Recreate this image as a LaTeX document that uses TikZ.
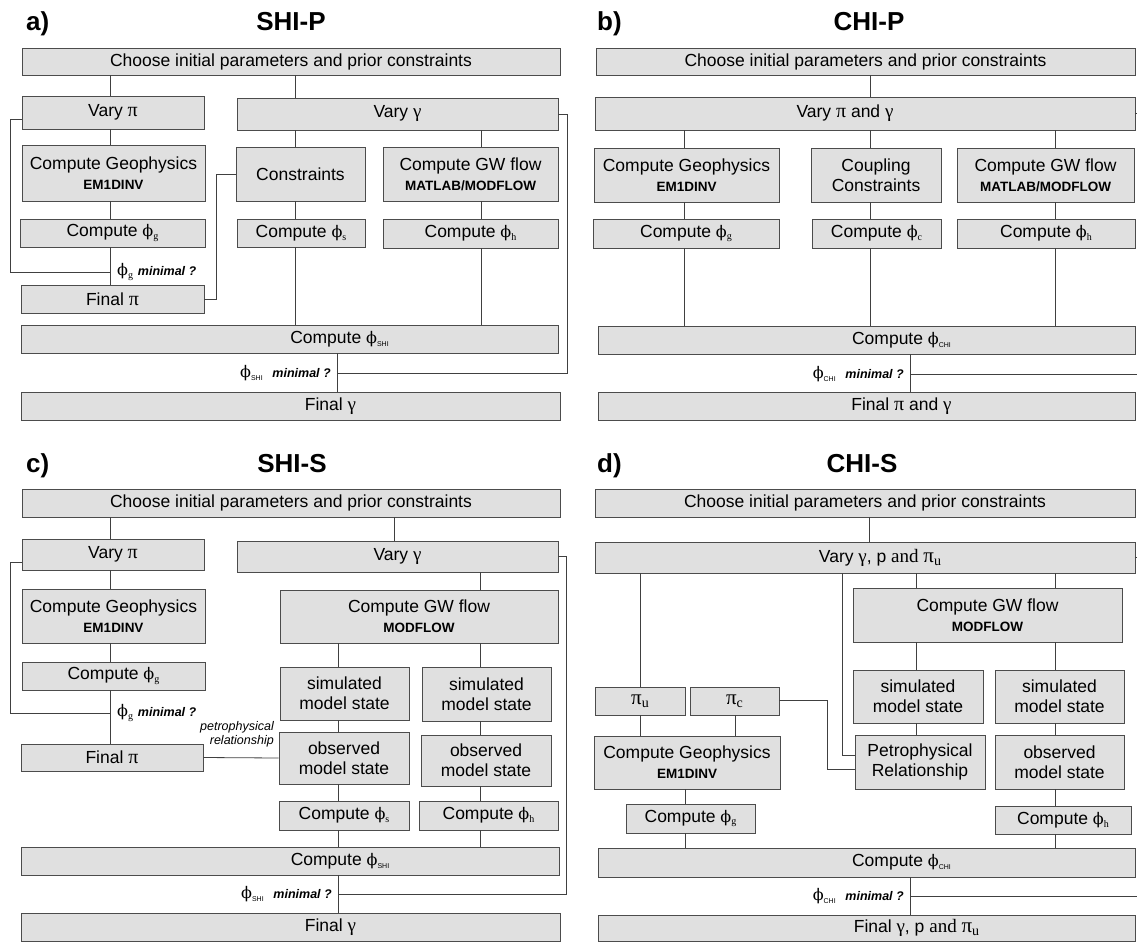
\documentclass[tikz,border=0pt]{standalone}
\usepackage{fontspec}
\setmainfont{Liberation Sans}
\newfontfamily\serifgr{Liberation Serif}
\newfontfamily\phifont{DejaVu Serif}
\usetikzlibrary{calc}

\newcommand{\mainsz}{\fontsize{17.5}{20}\selectfont}
\newcommand{\gpi}{{\serifgr\fontsize{20}{20}\selectfont π}}
\newcommand{\ggam}{{\serifgr\fontsize{19}{20}\selectfont γ}}
\newcommand{\piu}[1]{{\serifgr\fontsize{21}{20}\selectfont π\raisebox{-0.35ex}{\fontsize{14}{14}\selectfont #1}}}
\newcommand{\phs}[1]{{\phifont\fontsize{16}{20}\selectfont ϕ}\raisebox{-0.3ex}{\serifgr\fontsize{10}{10}\selectfont #1}}
\newcommand{\phcap}[1]{{\phifont\fontsize{16}{20}\selectfont ϕ}\raisebox{-0.3ex}{\fontsize{7}{7}\selectfont #1}}
\newcommand{\prog}[1]{{\bfseries\fontsize{13.5}{16}\selectfont #1}}
\newcommand{\minq}{{\bfseries\itshape\fontsize{12.5}{14}\selectfont minimal ?}}
\newcommand{\bx}[6]{\node[box,minimum width={(#4-#2)*1pt},minimum height={(#5-#3)*1pt}] (#1) at ({(#2+#4)/2},{(#3+#5)/2}) {#6};}

\tikzset{
  box/.style={draw=black!70, fill=black!12, line width=0.9pt, inner sep=0pt, align=center, font=\mainsz},
  conn/.style={draw=black!75, line width=0.8pt},
  lbl/.style={inner sep=0pt, font=\mainsz},
  ttl/.style={inner sep=0pt, font=\bfseries\fontsize{26}{28}\selectfont},
  petro/.style={inner sep=0pt, align=right, font=\itshape\fontsize{12.5}{13.5}\selectfont}
}

\begin{document}
\begin{tikzpicture}[x=1pt,y=-1pt]
\fill[white] (0,0) rectangle (1137,942);
\useasboundingbox (0,0) rectangle (1137,942);

% ---------------- titles
\node[ttl, anchor=base west] (aLbl) at (26,31) {a)};
\node[ttl, anchor=base] (aTtl) at (291,31) {SHI-P};
\node[ttl, anchor=base west] (bLbl) at (597,31) {b)};
\node[ttl, anchor=base] (bTtl) at (869,31) {CHI-P};
\node[ttl, anchor=base west] (cLbl) at (26,472) {c)};
\node[ttl, anchor=base] (cTtl) at (292,472) {SHI-S};
\node[ttl, anchor=base west] (dLbl) at (597,472) {d)};
\node[ttl, anchor=base] (dTtl) at (862,472) {CHI-S};

% ================= panel a
\bx{aT}{22}{48}{560}{75}{Choose initial parameters and prior constraints}
\bx{aVp}{22}{96}{204}{129}{Vary \gpi}
\bx{aVg}{237}{98}{558}{130}{Vary \ggam}
\bx{aGeo}{22}{145}{205}{201}{Compute Geophysics\\\prog{EM1DINV}}
\bx{aCon}{236}{147}{365}{201}{Constraints}
\bx{aGw}{383}{147}{558}{201}{Compute GW flow\\\prog{MATLAB/MODFLOW}}
\bx{aPg}{20}{219}{205}{247}{Compute \phs{g}}
\bx{aPs}{237}{219}{365}{247}{Compute \phs{s}}
\bx{aPh}{383}{219}{558}{248}{Compute \phs{h}}
\bx{aFp}{21}{285}{204}{313}{Final \gpi}
\bx{aShi}{21}{325}{558}{353}{\hspace*{100pt}Compute \phcap{SHI}}
\bx{aFg}{21}{392}{560}{420}{\hspace*{80pt}Final \ggam}

\coordinate (ax1) at (110,0);
\coordinate (ax2) at (295,0);
\coordinate (ax3) at (481,0);
\coordinate (ax4) at (337,0);
\coordinate (aRx) at (567,0);
\coordinate (aLa) at (10,119);
\coordinate (aM1) at (110,272);
\coordinate (aLb) at (216,299);
\coordinate (aM2) at (337,373);

\draw[conn] (aT.south -| ax1) -- (aVp.north -| ax1);
\draw[conn] (aVp.south -| ax1) -- (aGeo.north -| ax1);
\draw[conn] (aGeo.south -| ax1) -- (aPg.north -| ax1);
\draw[conn] (aPg.south -| ax1) -- (aFp.north -| ax1);
\draw[conn] (aT.south -| ax2) -- (aVg.north -| ax2);
\draw[conn] (aVg.south -| ax2) -- (aCon.north -| ax2);
\draw[conn] (aCon.south -| ax2) -- (aPs.north -| ax2);
\draw[conn] (aPs.south -| ax2) -- (aShi.north -| ax2);
\draw[conn] (aVg.south -| ax3) -- (aGw.north -| ax3);
\draw[conn] (aGw.south -| ax3) -- (aPh.north -| ax3);
\draw[conn] (aPh.south -| ax3) -- (aShi.north -| ax3);
\draw[conn] (aShi.south -| ax4) -- (aFg.north -| ax4);
\draw[conn] (aVp.west |- aLa) -- (aLa) -- (aLa |- aM1) -- (aM1);
\draw[conn] (aFp.east |- aLb) -- (aLb) -- (aLb |- aCon.west) -- (aCon.west);
\draw[conn] (aM2) -- (aM2 -| aRx) -- (aRx |- aVg.east) -- (aVg.east);
\node[lbl, anchor=west] (aQ1) at ([xshift=7pt]aM1) {\phs{g}\ \minq};
\node[lbl, anchor=east] (aQ2) at ([xshift=-6pt]aM2) {\phcap{SHI}\ \ \minq};

% ================= panel b
\bx{bT}{596}{48}{1135}{75}{Choose initial parameters and prior constraints}
\bx{bV}{595}{97}{1135}{130}{Vary \gpi{} and \ggam\hspace*{40pt}}
\bx{bGeo}{594}{148}{779}{202}{Compute Geophysics\\\prog{EM1DINV}}
\bx{bCc}{811}{148}{941}{202}{Coupling\\Constraints}
\bx{bGw}{957}{148}{1134}{202}{Compute GW flow\\\prog{MATLAB/MODFLOW}}
\bx{bPg}{593}{219}{779}{248}{Compute \phs{g}}
\bx{bPc}{812}{219}{941}{248}{Compute \phs{c}}
\bx{bPh}{957}{219}{1135}{248}{Compute \phs{h}}
\bx{bChi}{598}{326}{1135}{354}{\hspace*{70pt}Compute \phcap{CHI}}
\bx{bF}{598}{392}{1135}{420}{\hspace*{70pt}Final \gpi{} and \ggam}

\coordinate (bx1) at (684,0);
\coordinate (bx2) at (870,0);
\coordinate (bx3) at (1055,0);
\coordinate (bx4) at (910,0);
\coordinate (bEdge) at (1137,0);
\coordinate (bM) at (910,374);

\draw[conn] (bT.south -| bx2) -- (bV.north -| bx2);
\draw[conn] (bV.south -| bx1) -- (bGeo.north -| bx1);
\draw[conn] (bV.south -| bx2) -- (bCc.north -| bx2);
\draw[conn] (bV.south -| bx3) -- (bGw.north -| bx3);
\draw[conn] (bGeo.south -| bx1) -- (bPg.north -| bx1);
\draw[conn] (bCc.south -| bx2) -- (bPc.north -| bx2);
\draw[conn] (bGw.south -| bx3) -- (bPh.north -| bx3);
\draw[conn] (bPg.south -| bx1) -- (bChi.north -| bx1);
\draw[conn] (bPc.south -| bx2) -- (bChi.north -| bx2);
\draw[conn] (bPh.south -| bx3) -- (bChi.north -| bx3);
\draw[conn] (bChi.south -| bx4) -- (bF.north -| bx4);
\draw[conn] (bM) -- (bM -| bEdge);
\draw[conn] (bV.east) -- (bV.east -| bEdge);
\node[lbl, anchor=east] (bQ) at ([xshift=-6pt]bM) {\phcap{CHI}\ \ \minq};

% ================= panel c
\bx{cT}{22}{489}{560}{517}{Choose initial parameters and prior constraints}
\bx{cVp}{22}{539}{204}{570}{Vary \gpi}
\bx{cVg}{237}{541}{558}{572}{Vary \ggam}
\bx{cGeo}{22}{589}{205}{643}{Compute Geophysics\\\prog{EM1DINV}}
\bx{cGw}{280}{590}{558}{643}{Compute GW flow\\\prog{MODFLOW}}
\bx{cPg}{22}{662}{205}{690}{Compute \phs{g}}
\bx{cS1}{280}{667}{409}{720}{simulated\\model state}
\bx{cS2}{422}{667}{551}{721}{simulated\\model state}
\bx{cO1}{279}{732}{409}{784}{observed\\model state}
\bx{cO2}{421}{735}{551}{786}{observed\\model state}
\bx{cFp}{21}{744}{203}{771}{Final \gpi}
\bx{cPs}{279}{801}{409}{830}{Compute \phs{s}}
\bx{cPh}{419}{801}{558}{830}{Compute \phs{h}}
\bx{cShi}{21}{847}{559}{875}{\hspace*{100pt}Compute \phcap{SHI}}
\bx{cFg}{21}{913}{560}{941}{\hspace*{80pt}Final \ggam}

\coordinate (cx1) at (110,0);
\coordinate (cx2) at (394,0);
\coordinate (cx3) at (480,0);
\coordinate (cx4) at (338,0);
\coordinate (cRx) at (566,0);
\coordinate (cLa) at (10,562);
\coordinate (cM1) at (110,713);
\coordinate (cM2) at (338,894);

\draw[conn] (cT.south -| cx1) -- (cVp.north -| cx1);
\draw[conn] (cVp.south -| cx1) -- (cGeo.north -| cx1);
\draw[conn] (cGeo.south -| cx1) -- (cPg.north -| cx1);
\draw[conn] (cPg.south -| cx1) -- (cFp.north -| cx1);
\draw[conn] (cT.south -| cx2) -- (cVg.north -| cx2);
\draw[conn] (cVg.south -| cx3) -- (cGw.north -| cx3);
\draw[conn] (cGw.south -| cx4) -- (cS1.north -| cx4);
\draw[conn] (cGw.south -| cx3) -- (cS2.north -| cx3);
\draw[conn] (cS1.south -| cx4) -- (cO1.north -| cx4);
\draw[conn] (cS2.south -| cx3) -- (cO2.north -| cx3);
\draw[conn] (cO1.south -| cx4) -- (cPs.north -| cx4);
\draw[conn] (cO2.south -| cx3) -- (cPh.north -| cx3);
\draw[conn] (cPs.south -| cx4) -- (cShi.north -| cx4);
\draw[conn] (cPh.south -| cx3) -- (cShi.north -| cx3);
\draw[conn] (cShi.south -| cx4) -- (cFg.north -| cx4);
\draw[conn] (cVp.west |- cLa) -- (cLa) -- (cLa |- cM1) -- (cM1);
\draw[conn] (cFp.east) -- (cO1.west);
\draw[conn] (cM2) -- (cM2 -| cRx) -- (cRx |- cVg.east) -- (cVg.east);
\node[lbl, anchor=west] (cQ1) at ([xshift=7pt]cM1) {\phs{g}\ \minq};
\node[lbl, anchor=east] (cQ2) at ([xshift=-6pt]cM2) {\phcap{SHI}\ \ \minq};
\node[petro, anchor=south east] (cPetro) at (274,747) {petrophysical\\relationship};

% ================= panel d
\bx{dT}{595}{489}{1135}{517}{Choose initial parameters and prior constraints}
\bx{dV}{595}{542}{1135}{573}{\hspace*{30pt}Vary \ggam, p {\serifgr\fontsize{19}{20}\selectfont and} \piu{u}}
\bx{dGw}{853}{588}{1122}{642}{Compute GW flow\\\prog{MODFLOW}}
\bx{dS1}{853}{670}{983}{723}{simulated\\model state}
\bx{dS2}{995}{670}{1124}{723}{simulated\\model state}
\bx{dPu}{595}{687}{685}{715}{\piu{u}}
\bx{dPc}{690}{687}{779}{715}{\piu{c}}
\bx{dPet}{855}{735}{985}{789}{Petrophysical\\Relationship}
\bx{dObs}{995}{735}{1124}{789}{observed\\model state}
\bx{dGeo}{594}{736}{780}{789}{Compute Geophysics\\\prog{EM1DINV}}
\bx{dPg}{626}{804}{755}{833}{Compute \phs{g}}
\bx{dPh}{995}{806}{1131}{834}{Compute \phs{h}}
\bx{dChi}{598}{848}{1135}{877}{\hspace*{70pt}Compute \phcap{CHI}}
\bx{dF}{598}{915}{1135}{941}{\hspace*{100pt}Final \ggam, p {\serifgr\fontsize{19}{20}\selectfont and} \piu{u}}

\coordinate (dx0) at (869,0);
\coordinate (dx1) at (640,0);
\coordinate (dx2) at (735,0);
\coordinate (dx4) at (916,0);
\coordinate (dx5) at (1055,0);
\coordinate (dx6) at (685,0);
\coordinate (dx7) at (910,0);
\coordinate (dE1) at (842,755);
\coordinate (dE2) at (827,700);
\coordinate (dE3) at (827,769);
\coordinate (dEdge) at (1137,0);
\coordinate (dM) at (910,896);

\draw[conn] (dT.south -| dx0) -- (dV.north -| dx0);
\draw[conn] (dV.south -| dx1) -- (dPu.north -| dx1);
\draw[conn] (dV.south -| dE1) -- (dE1) -- (dE1 -| dPet.west);
\draw[conn] (dV.south -| dx4) -- (dGw.north -| dx4);
\draw[conn] (dV.south -| dx5) -- (dGw.north -| dx5);
\draw[conn] (dGw.south -| dx4) -- (dS1.north -| dx4);
\draw[conn] (dGw.south -| dx5) -- (dS2.north -| dx5);
\draw[conn] (dS1.south -| dx4) -- (dPet.north -| dx4);
\draw[conn] (dS2.south -| dx5) -- (dObs.north -| dx5);
\draw[conn] (dObs.south -| dx5) -- (dPh.north -| dx5);
\draw[conn] (dPh.south -| dx5) -- (dChi.north -| dx5);
\draw[conn] (dPu.south -| dx1) -- (dGeo.north -| dx1);
\draw[conn] (dPc.south -| dx2) -- (dGeo.north -| dx2);
\draw[conn] (dPc.east |- dE2) -- (dE2) -- (dE3) -- (dE3 -| dPet.west);
\draw[conn] (dGeo.south -| dx6) -- (dPg.north -| dx6);
\draw[conn] (dPg.south -| dx6) -- (dChi.north -| dx6);
\draw[conn] (dChi.south -| dx7) -- (dF.north -| dx7);
\draw[conn] (dM) -- (dM -| dEdge);
\draw[conn] (dV.east) -- (dV.east -| dEdge);
\node[lbl, anchor=east] (dQ) at ([xshift=-6pt]dM) {\phcap{CHI}\ \ \minq};

\end{tikzpicture}
\end{document}
